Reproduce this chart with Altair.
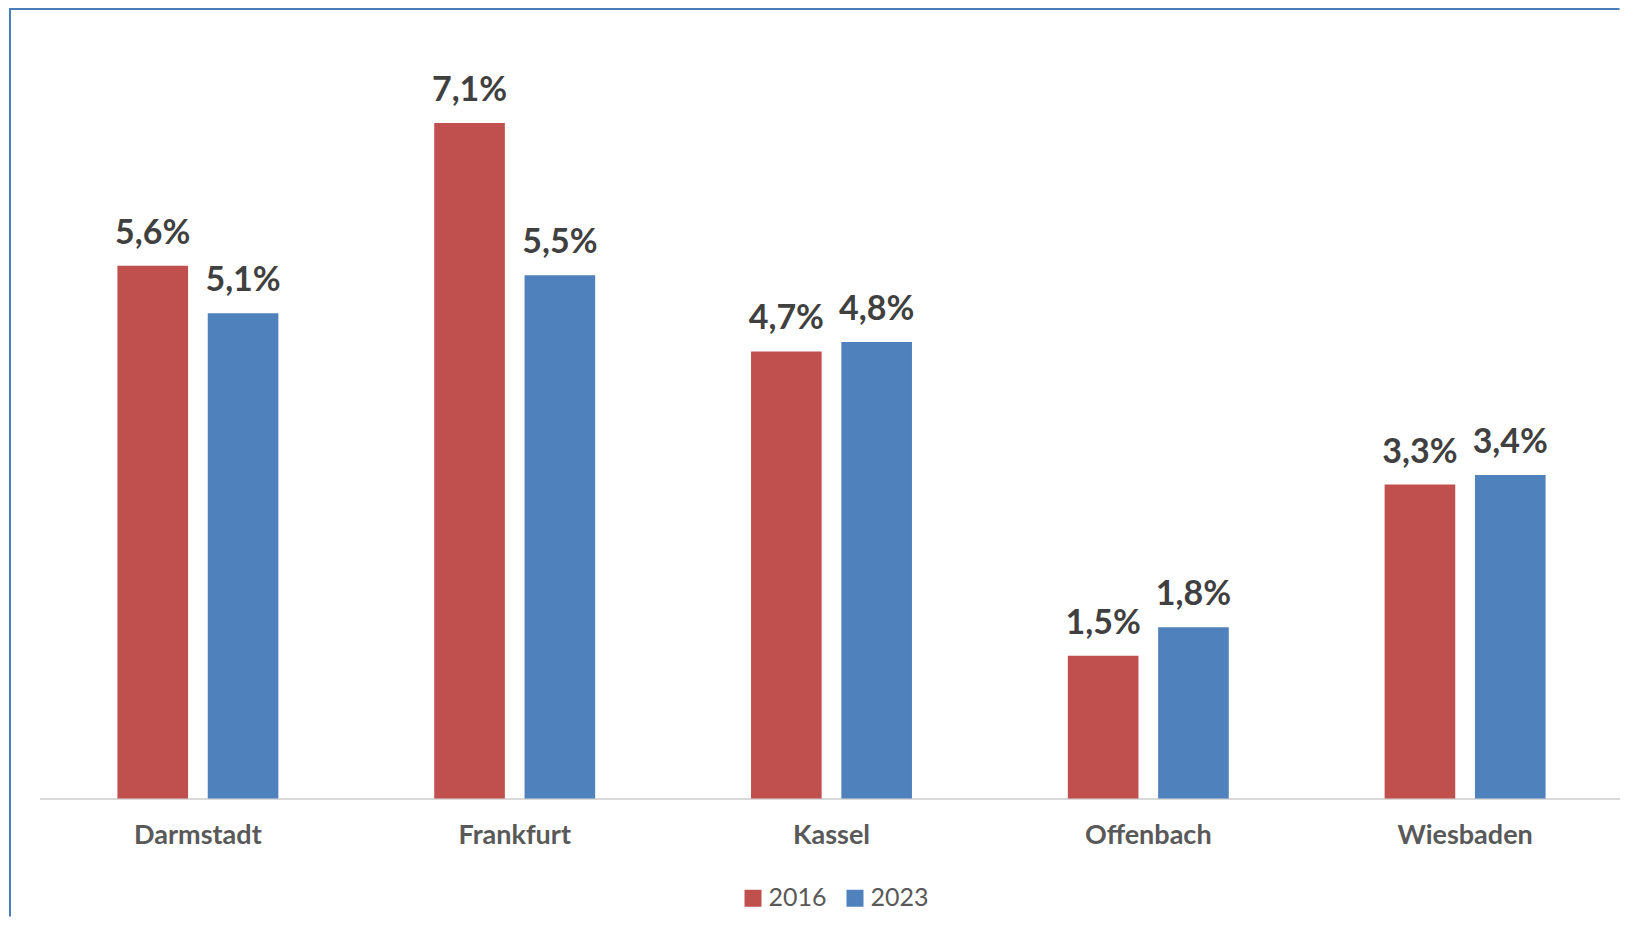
import altair as alt
import pandas as pd

cities = ["Darmstadt", "Frankfurt", "Kassel", "Offenbach", "Wiesbaden"]
years = ["2016", "2023"]
v2016 = [5.6, 7.1, 4.7, 1.5, 3.3]
v2023 = [5.1, 5.5, 4.8, 1.8, 3.4]
colors = ["#C0504D", "#4F81BD"]

rows = []
for c, a, b in zip(cities, v2016, v2023):
    for y, v in zip(years, [a, b]):
        rows.append({"city": c, "year": y, "value": v,
                     "label": f"{v:.1f}".replace(".", ",") + "%"})
df = pd.DataFrame(rows)

W, H = 1584, 761
PAD = {"left": 31.5, "top": 29.5, "right": -4, "bottom": 118}

x = alt.X("city:N", sort=cities, title=None,
          scale=alt.Scale(paddingInner=0.492, paddingOuter=0.246),
          axis=alt.Axis(labelAngle=0, ticks=False, tickSize=0, labelPadding=24,
                        labelFont="Lato", labelFontSize=27, labelFontWeight="bold",
                        labelColor="#595959", domainColor="#D9D9D9", domainWidth=2,
                        grid=False))
xo = alt.XOffset("year:N", sort=years,
                 scale=alt.Scale(paddingInner=0.218, paddingOuter=0))
y = alt.Y("value:Q", scale=alt.Scale(domain=[0, 8], nice=False), axis=None)

base = alt.Chart(df)
bars = base.mark_bar().encode(
    x=x, xOffset=xo, y=y,
    color=alt.Color("year:N", sort=years,
                    scale=alt.Scale(domain=years, range=colors),
                    legend=alt.Legend(title=None, orient="none", direction="horizontal",
                                      legendX=701, legendY=848, symbolType="square",
                                      symbolSize=289, symbolStrokeWidth=0,
                                      labelFont="Lato", labelFontSize=25,
                                      labelColor="#595959", labelOffset=3,
                                      columnPadding=15, padding=0)),
)
texts = base.mark_text(font="Lato", fontSize=34, fontWeight="bold", color="#404040",
                       baseline="alphabetic", align="center", dy=-22).encode(
    x=x, xOffset=xo, y=y, text="label:N")

one = alt.Chart(pd.DataFrame({"a": [0]}))
frame_left = one.mark_rule(color="#4A7EBB", strokeWidth=2).encode(
    x=alt.value(-29.5), y=alt.value(-29.5), y2=alt.value(H + PAD["bottom"]))
frame_top = one.mark_rule(color="#4A7EBB", strokeWidth=2).encode(
    x=alt.value(-29.5), x2=alt.value(W + PAD["right"]), y=alt.value(-28.5))

chart = alt.layer(bars, texts, frame_left, frame_top).properties(
    width=W, height=H, padding=PAD, autosize=alt.AutoSizeParams(type="none"),
    background="white"
).configure_view(stroke=None)

chart.save("out.html", embed_options={"renderer": "svg", "actions": False})
